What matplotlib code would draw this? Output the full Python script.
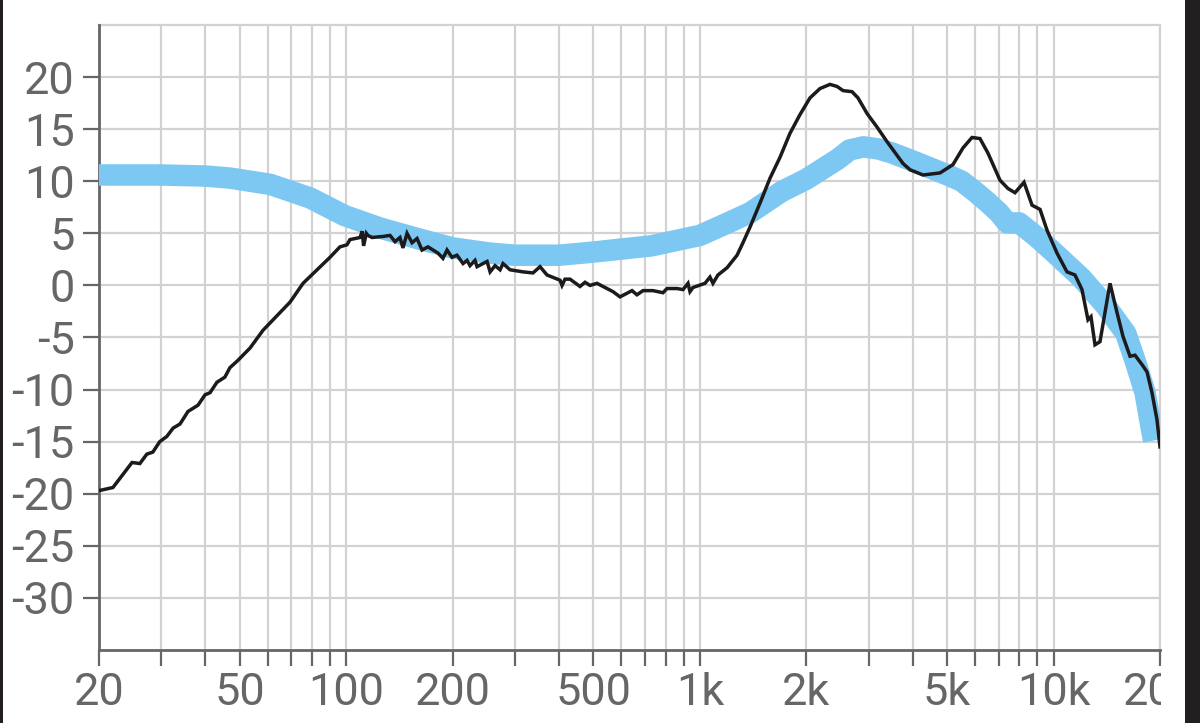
import matplotlib
matplotlib.use("Agg")
import matplotlib.pyplot as plt
from matplotlib.patches import Rectangle
from matplotlib.ticker import FixedLocator, NullFormatter

# ---- data ----
black_freq = [20, 21.9, 24.8, 26.1, 27.3, 28.4, 29.7, 31.1, 32.4, 33.9, 35.7, 38.1, 39.9, 41.2, 43.1,
              45.4, 46.9, 49.4, 53.5, 58.2, 65.0, 69.4, 75.5, 82.7, 90.0, 96.0, 100.5, 102.5, 109.4,
              111, 112, 114, 115.2, 118.3, 127, 133, 137.4, 141.9, 144.7, 148.6, 153.5, 158.6, 163.8,
              170.3, 181.8, 187.8, 192.8, 199.1, 205.7, 214, 219.6, 223.9, 231.3, 234.4, 250.2, 255.2,
              263.6, 272.3, 277.6, 290.6, 316.2, 337.4, 353.2, 369.7, 402.4, 407.6, 415.6, 429.4,
              458.2, 473.4, 489, 511.8, 546.4, 568.2, 594.6, 642.8, 664, 690.6, 737, 786.6, 807.2,
              861.6, 896, 925.6, 937.6, 956, 1034, 1068, 1089, 1125, 1194, 1274, 1324, 1386, 1479,
              1579, 1685, 1798, 1919, 2048, 2186, 2333, 2443, 2540, 2692, 2800, 2970, 3169, 3382,
              3609, 3754, 3930, 4276, 4776, 5196, 5546, 5880, 6194, 6526, 7056, 7434, 7780, 8252,
              8694, 9158, 9586, 10230, 10916, 11500, 12036, 12514, 12762, 13098, 13532, 13980,
              14442, 15116, 15720, 16454, 16998, 17790, 18378, 18984, 19612, 20000]
black_db = [-19.7, -19.4, -17.0, -17.1, -16.2, -16.0, -15.0, -14.5, -13.7, -13.3, -12.1, -11.5, -10.5,
            -10.3, -9.3, -8.8, -7.9, -7.2, -6.0, -4.3, -2.6, -1.6, 0.2, 1.5, 2.7, 3.7, 3.9, 4.4, 4.6,
            5.2, 3.8, 5.0, 4.8, 4.6, 4.7, 4.8, 4.2, 4.6, 3.6, 5.0, 4.1, 4.5, 3.4, 3.7, 3.1, 2.6, 3.4,
            2.7, 2.9, 2.1, 2.4, 1.9, 2.4, 1.8, 2.3, 1.3, 1.9, 1.5, 2.1, 1.5, 1.3, 1.2, 1.8, 1.0, 0.5,
            0.0, 0.6, 0.6, -0.1, 0.3, 0.0, 0.2, -0.3, -0.6, -1.1, -0.5, -0.9, -0.5, -0.5, -0.7, -0.3,
            -0.3, -0.4, 0.2, -0.6, -0.2, 0.2, 0.8, 0.2, 1.0, 1.7, 2.9, 4.1, 5.6, 7.9, 10.3, 12.3,
            14.6, 16.4, 18.0, 18.9, 19.3, 19.1, 18.7, 18.6, 18.0, 16.5, 15.2, 13.8, 12.5, 11.7,
            11.1, 10.6, 10.8, 11.6, 13.2, 14.2, 14.1, 12.7, 10.1, 9.3, 8.9, 9.9, 7.7, 7.3, 5.3, 3.1,
            1.3, 1.0, -0.4, -3.3, -3.0, -5.7, -5.4, -2.6, 0.2, -2.6, -4.9, -6.8, -6.7, -7.6, -8.3,
            -10.3, -12.9, -15.5]

target_freq = [20, 30, 40, 47, 61, 79, 99, 125, 159, 200, 255, 300, 400, 500, 730, 1000, 1200,
               1390, 1700, 2000, 2450, 2650, 2900, 3200, 3500, 4100, 5100, 5500, 6000, 6500, 7000,
               7400, 8000, 9000, 10000, 12000, 14000, 16000, 17000, 18150, 18870, 19200]
target_db = [10.6, 10.6, 10.5, 10.3, 9.7, 8.4, 6.7, 5.5, 4.5, 3.6, 3.1, 2.9, 2.9, 3.2, 3.8, 4.8,
             6.0, 7.0, 9.0, 10.2, 12.1, 13.0, 13.3, 13.1, 12.7, 11.8, 10.5, 10.0, 9.0, 8.0, 7.0,
             6.0, 6.0, 4.6, 3.2, 0.7, -1.9, -4.6, -7.2, -10.3, -13.6, -14.9]

x_major = [20, 50, 100, 200, 500, 1000, 2000, 5000, 10000, 20000]
x_major_labels = ["20", "50", "100", "200", "500", "1k", "2k", "5k", "10k", "20k"]
x_minor = [30, 40, 60, 70, 80, 90, 300, 400, 600, 700, 800, 900,
           3000, 4000, 6000, 7000, 8000, 9000]
y_ticks = [-30, -25, -20, -15, -10, -5, 0, 5, 10, 15, 20]
y_labels = ["-30", "-25", "-20", "-15", "-10", "-5", "0", "5", "10", "15", "20"]

# ---- style ----
W, H, DPI = 1200, 723, 100
GRID = "#d2d2d2"
AXC = "#666666"
BLUE = "#7dc8f2"
BLACK = "#1c1a1a"

plt.rcParams['font.family'] = ['Roboto', 'DejaVu Sans']

fig = plt.figure(figsize=(W / DPI, H / DPI), dpi=DPI)
fig.patch.set_facecolor("white")
ax = fig.add_axes([99 / W, 1 - 650 / H, (1160 - 99) / W, (650 - 25) / H])

ax.set_xscale("log")
ax.set_xlim(20, 20000)
ax.set_ylim(-35, 25)

ax.plot(target_freq, target_db, color=BLUE, lw=15.5, solid_capstyle="butt",
        solid_joinstyle="round", zorder=3)
ax.plot(black_freq, black_db, color=BLACK, lw=2.5, solid_joinstyle="miter", zorder=4)

ax.xaxis.set_major_locator(FixedLocator(x_major))
ax.set_xticklabels(x_major_labels)
ax.xaxis.set_minor_locator(FixedLocator(x_minor))
ax.xaxis.set_minor_formatter(NullFormatter())
ax.set_yticks(y_ticks)
ax.set_yticklabels(y_labels)

ax.grid(True, which="both", axis="x", color=GRID, lw=1.6, zorder=0)
ax.grid(True, which="major", axis="y", color=GRID, lw=1.6, zorder=0)
ax.axhline(25, color=GRID, lw=1.6, clip_on=False, zorder=0)
ax.axvline(20000, color=GRID, lw=1.6, clip_on=False, zorder=0)
ax.set_axisbelow(True)

for s in ["top", "right"]:
    ax.spines[s].set_visible(False)
for s in ["left", "bottom"]:
    ax.spines[s].set_color(AXC)
    ax.spines[s].set_linewidth(2.0)

ax.tick_params(axis="both", which="both", direction="out", length=11.5, width=1.6,
               color=AXC, labelcolor=AXC, labelsize=32.5)
ax.tick_params(axis="y", pad=6)
ax.tick_params(axis="x", pad=4)

# clip the last x label at the plot's right edge, and screenshot borders
fig.patches.append(Rectangle((1161 / W, 0), (1185 - 1161) / W, 60 / H,
                             transform=fig.transFigure, facecolor="white",
                             edgecolor="none", zorder=10))
fig.patches.append(Rectangle((0, 0), 3 / W, 1, transform=fig.transFigure,
                             facecolor="#231f20", edgecolor="none", zorder=11))
fig.patches.append(Rectangle((1185 / W, 0), 15 / W, 1, transform=fig.transFigure,
                             facecolor="#231f20", edgecolor="none", zorder=11))

fig.savefig("out.png", dpi=DPI)
